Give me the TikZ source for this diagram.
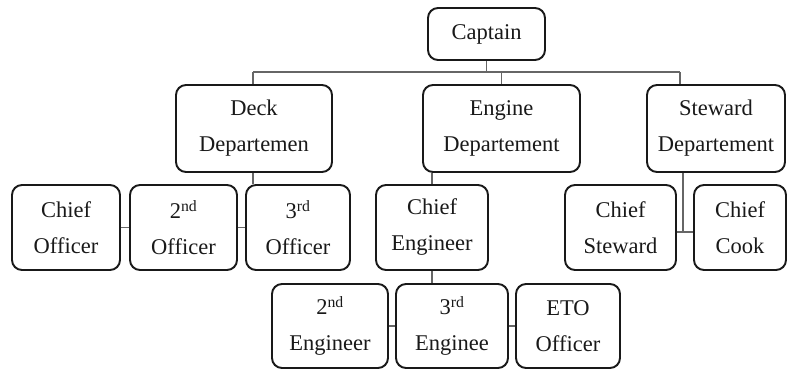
\documentclass[tikz,border=0pt]{standalone}
\usepackage{fontspec}
\setmainfont{Liberation Serif}
\usetikzlibrary{positioning}

\tikzset{
  rank/.style={draw=black!90, line width=1.9pt, rounded corners=10pt, rectangle,
    align=center, inner sep=2pt, text=black!90,
    font=\fontsize{22.5}{36}\selectfont},
  link/.style={draw=black!60, line width=1.1pt}
}

\begin{document}
\begin{tikzpicture}[x=1pt, y=-1pt]
        \useasboundingbox (0,0) rectangle (790,372);
        % Draw the nodes
        \node[rank, minimum width=117pt, minimum height=52pt] (captain) at (486.5, 34) {Captain};
        \node[rank, minimum width=156pt, minimum height=87pt] (deck) at (254, 128.5) {Deck\\Departemen};
        \node[rank, minimum width=157pt, minimum height=87pt] (engine) at (501.5, 128.5) {Engine\\Departement};
        \node[rank, minimum width=138pt, minimum height=87pt] (steward) at (716, 128.5) {Steward\\Departement};

        \node[rank, minimum width=108pt, minimum height=85pt] (chiefoff) at (66, 227.5) {Chief\\Officer};
        \node[rank, minimum width=107pt, minimum height=85pt] (secondoff) at (183.5, 227.5) {2\textsuperscript{nd}\\Officer};
        \node[rank, minimum width=104pt, minimum height=85pt] (thirdoff) at (298, 227.5) {3\textsuperscript{rd}\\Officer};
        \node[rank, minimum width=112pt, minimum height=85pt] (chiefeng) at (432, 227.5) {Chief\\Engineer};
        \node[rank, minimum width=111pt, minimum height=85pt] (chiefstew) at (620.5, 227.5) {Chief\\Steward};
        \node[rank, minimum width=92pt, minimum height=85pt] (chiefcook) at (740, 227.5) {Chief\\Cook};

        \node[rank, minimum width=116pt, minimum height=84pt] (secondeng) at (330, 326) {2\textsuperscript{nd}\\Engineer};
        \node[rank, minimum width=112pt, minimum height=84pt] (thirdeng) at (452, 326) {3\textsuperscript{rd}\\Enginee};
        \node[rank, minimum width=104pt, minimum height=84pt] (eto) at (568, 326) {ETO\\Officer};

        % Draw the lines
        \coordinate (busL) at (253, 72);
        \coordinate (busR) at (680, 72);
        \coordinate (stewjoin) at (683, 232);
        \draw[link] (busL) -- (busR);
        \draw[link] (captain.south) -- (captain.south |- busL);
        \draw[link] (busL) -- (busL |- deck.north);
        \draw[link] (engine.north |- busL) -- (engine.north);
        \draw[link] (busR) -- (busR |- steward.north);

        \draw[link] (busL |- deck.south) -- (busL |- thirdoff.north);
        \draw[link] (chiefoff.east) -- (secondoff.west);
        \draw[link] (secondoff.east) -- (thirdoff.west);

        \draw[link] (chiefeng.north |- engine.south) -- (chiefeng.north);
        \draw[link] (chiefeng.south) -- (chiefeng.south |- thirdeng.north);
        \draw[link] (secondeng.east) -- (thirdeng.west);
        \draw[link] (thirdeng.east) -- (eto.west);

        \draw[link] (stewjoin |- steward.south) -- (stewjoin);
        \draw[link] (chiefstew.east |- stewjoin) -- (chiefcook.west |- stewjoin);
    \end{tikzpicture}
\end{document}
